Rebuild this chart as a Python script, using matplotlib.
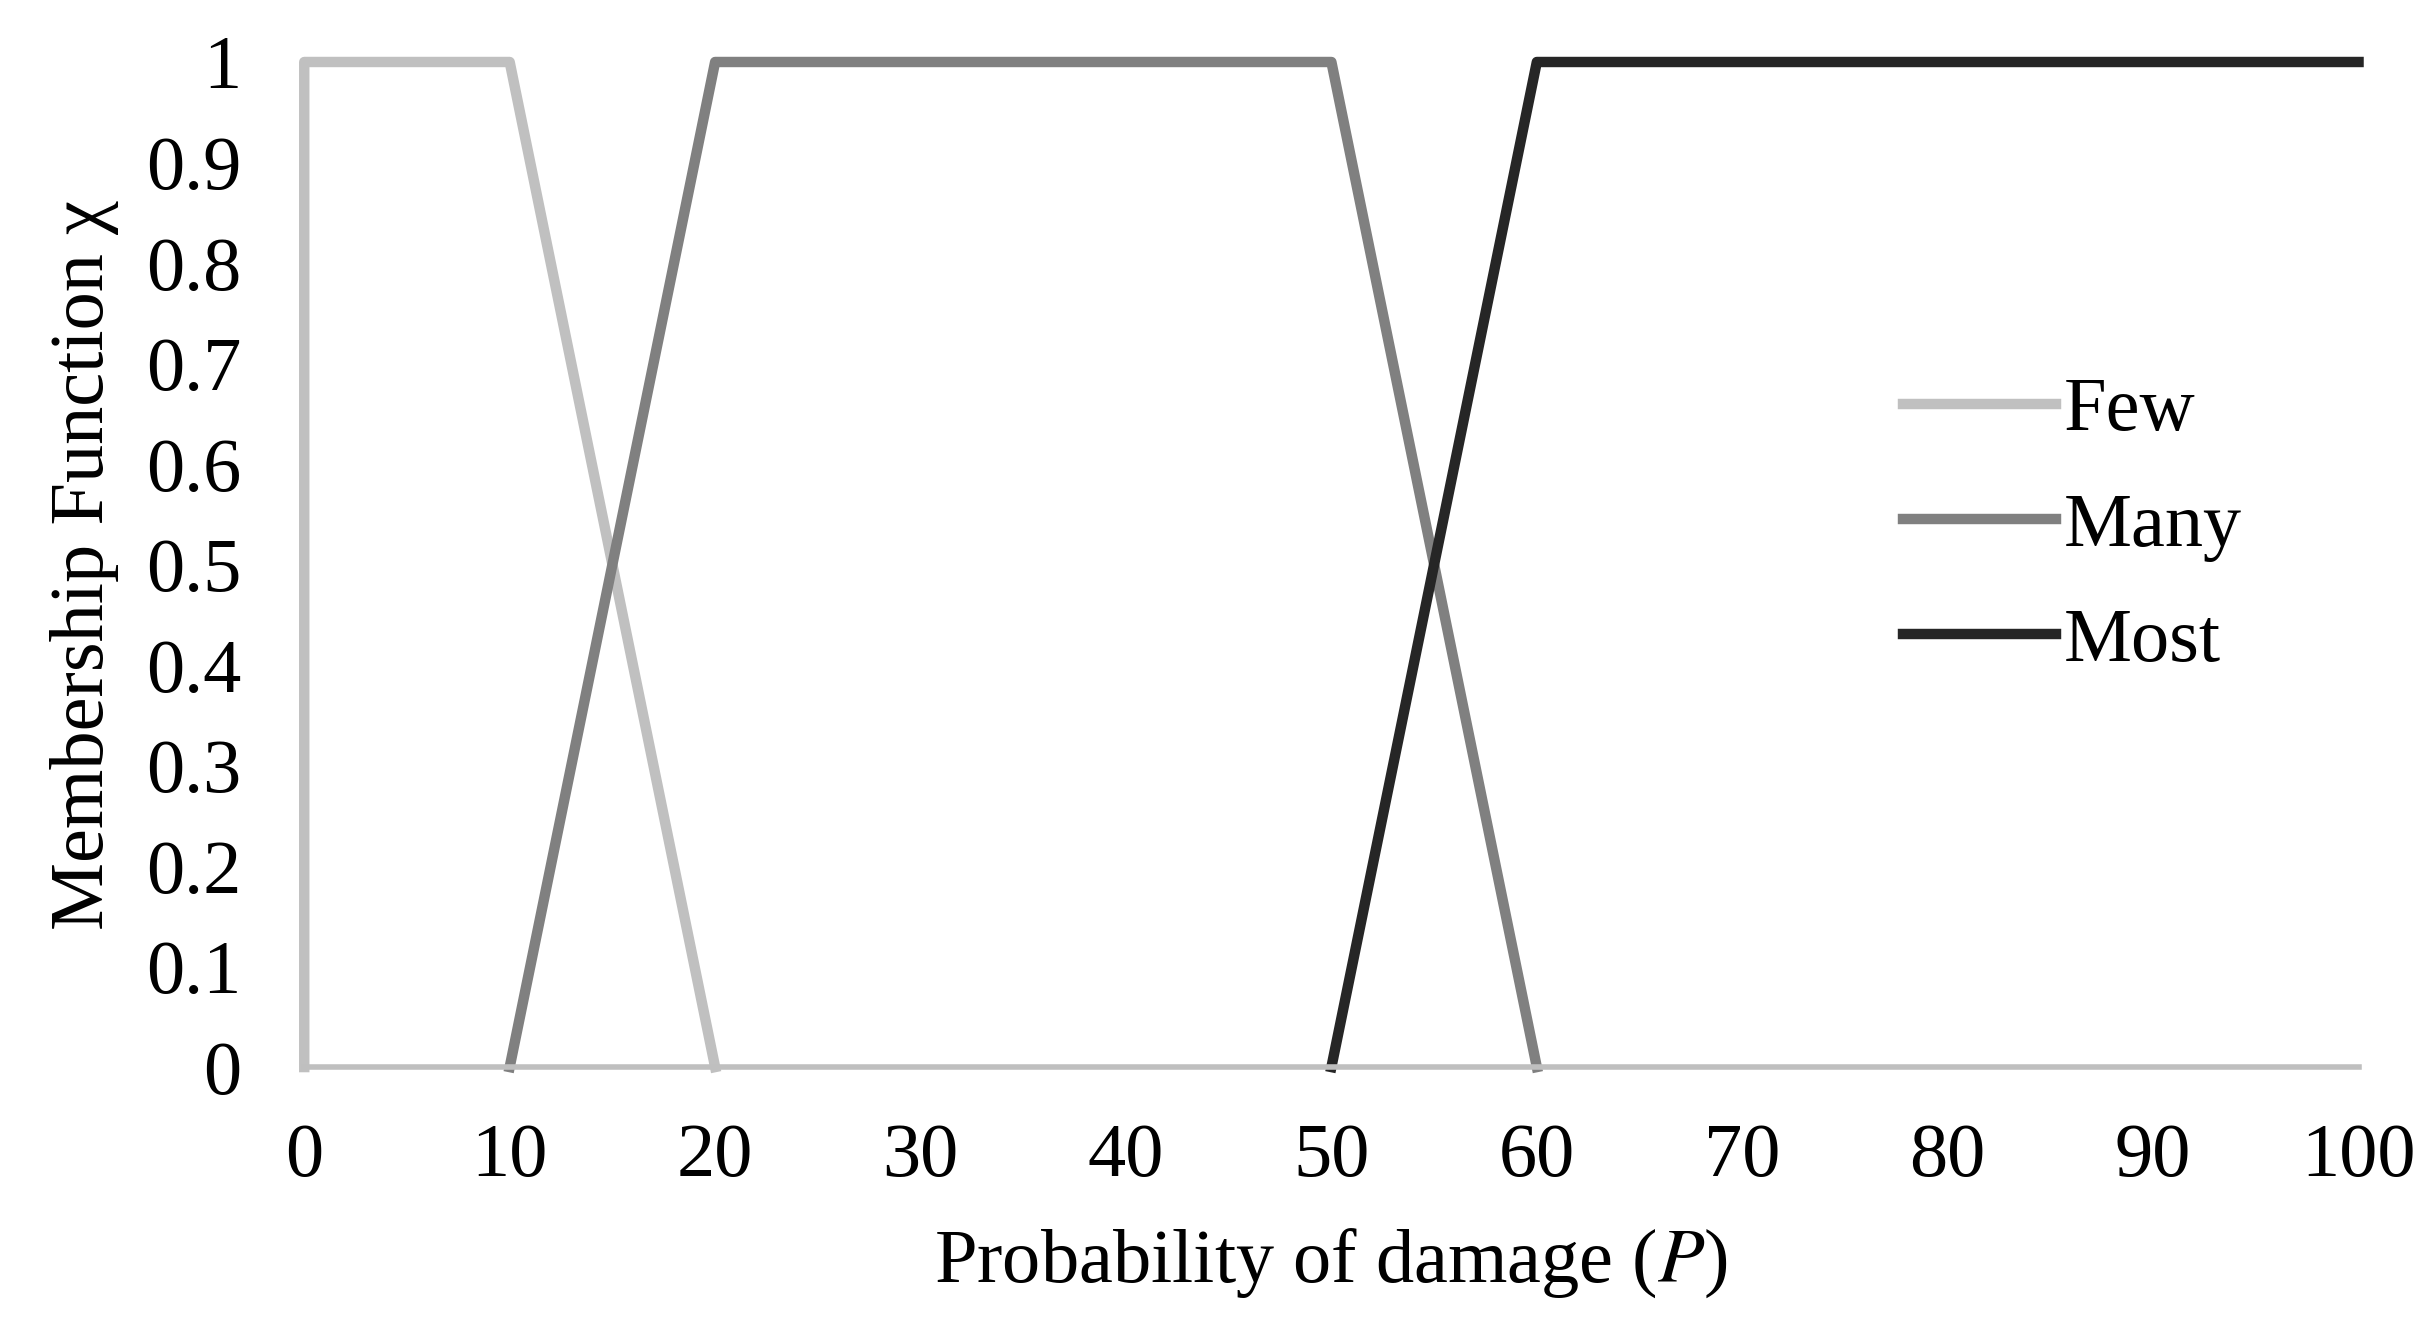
import matplotlib.pyplot as plt

plt.rcParams['font.family'] = ['Liberation Serif', 'DejaVu Serif']
plt.rcParams['mathtext.fontset'] = 'stix'

# Membership functions (breakpoints)
few_x = [0, 0, 10, 20]
few_y = [0, 1, 1, 0]
many_x = [10, 20, 50, 60]
many_y = [0, 1, 1, 0]
most_x = [50, 60, 100]
most_y = [0, 1, 1]

x_ticks = list(range(0, 101, 10))
y_ticks = [0, 0.1, 0.2, 0.3, 0.4, 0.5, 0.6, 0.7, 0.8, 0.9, 1]
y_labels = ["0", "0.1", "0.2", "0.3", "0.4", "0.5", "0.6", "0.7", "0.8", "0.9", "1"]

fig = plt.figure(figsize=(24.34, 13.19), dpi=100)
ax = fig.add_axes([0.125, 0.191, 0.844, 0.762])

lw = 7.5
ax.plot(few_x, few_y, color="#c0c0c0", lw=lw, label="Few", clip_on=False)
ax.plot(many_x, many_y, color="#808080", lw=lw, label="Many", clip_on=False)
ax.plot(most_x, most_y, color="#262626", lw=lw, label="Most", clip_on=False)

ax.set_xlim(0, 100)
ax.set_ylim(0, 1)
ax.set_xticks(x_ticks)
ax.set_yticks(y_ticks)
ax.set_yticklabels(y_labels)
ax.tick_params(length=0, labelsize=55, pad=40)
ax.tick_params(axis="y", pad=45)

for s in ["top", "right", "left"]:
    ax.spines[s].set_visible(False)
ax.spines["bottom"].set_color("#bfbfbf")
ax.spines["bottom"].set_linewidth(4)

ax.set_xlabel(r"Probability of damage ($\mathit{P}$)", fontsize=55, labelpad=25)
ax.set_ylabel("Membership Function χ", fontsize=55, labelpad=20)

ax.legend(loc="upper left", bbox_to_anchor=(0.745, 0.755), frameon=False,
          fontsize=55, handlelength=2.0, handletextpad=0.1, labelspacing=0.6)

fig.savefig("out.png", dpi=100)
